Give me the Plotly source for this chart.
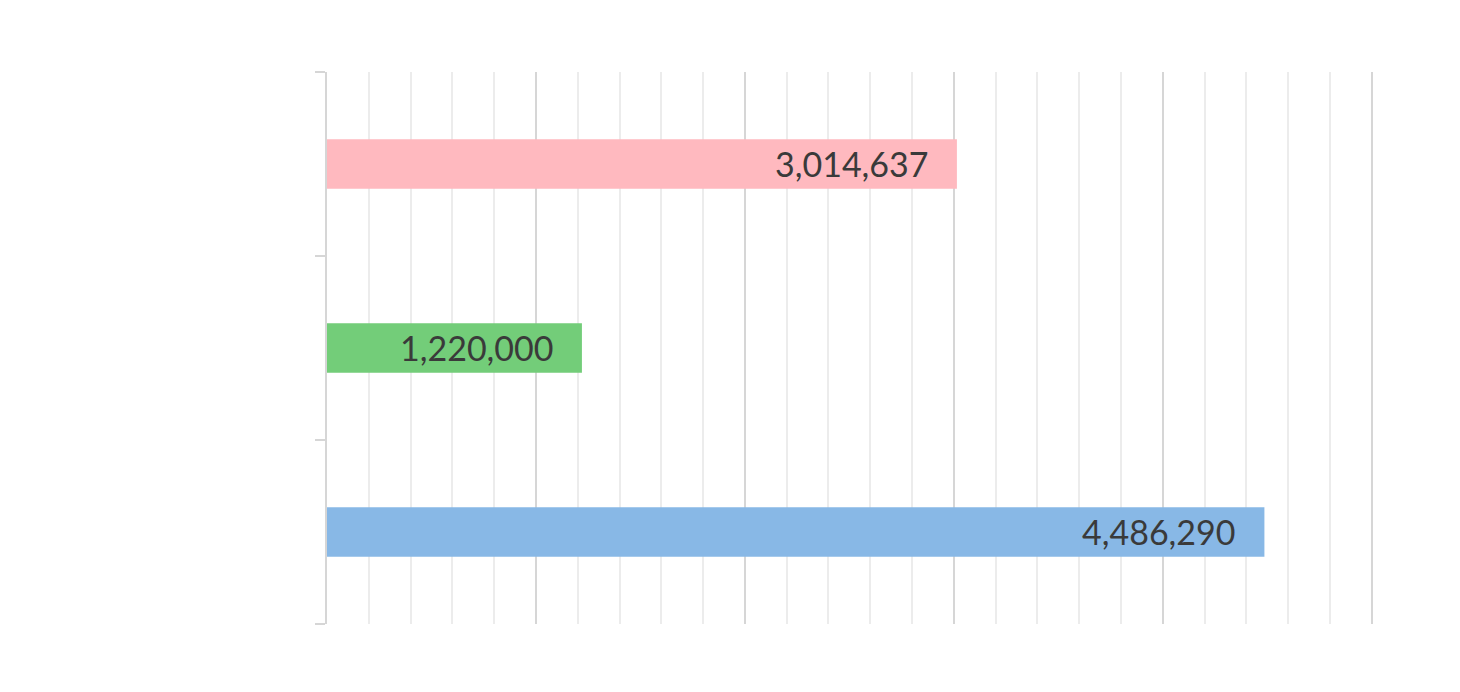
import plotly.graph_objects as go

categories = ["Category A", "Category B", "Category C"]
values = [3014637, 1220000, 4486290]
colors = ["#ffb9bf", "#73cd79", "#88b8e6"]
labels = ["{:,}".format(v) for v in values]

fig = go.Figure()
fig.add_trace(go.Bar(
    y=categories,
    x=values,
    orientation="h",
    marker=dict(color=colors, line=dict(width=0)),
    width=0.27,
    hoverinfo="x",
))

for c, v, t in zip(categories, values, labels):
    fig.add_annotation(
        x=v, y=c, text=t, showarrow=False,
        xanchor="right", yanchor="middle", xshift=-27, yshift=1,
        font=dict(family="Lato", size=34, color="#3a3a3a"),
    )

fig.update_layout(
    width=1460, height=692,
    margin=dict(l=319, r=95, t=64, b=76),
    paper_bgcolor="white", plot_bgcolor="white",
    showlegend=False, bargap=0.73,
)
fig.update_xaxes(
    range=[0, 5006000], dtick=1000000, tick0=0,
    showticklabels=False, ticks="",
    showgrid=True, gridcolor="#d6d6d6", gridwidth=2,
    minor=dict(dtick=200000, showgrid=True, gridcolor="#ececec", gridwidth=2),
    zeroline=False, showline=False,
)
fig.update_yaxes(
    categoryorder="array", categoryarray=categories[::-1],
    showticklabels=False, tickson="boundaries",
    ticks="outside", ticklen=10, tickwidth=2, tickcolor="#d6d6d6",
    showline=True, linecolor="#d6d6d6", linewidth=2,
    showgrid=False, zeroline=False,
)

fig.write_html("out.html")
